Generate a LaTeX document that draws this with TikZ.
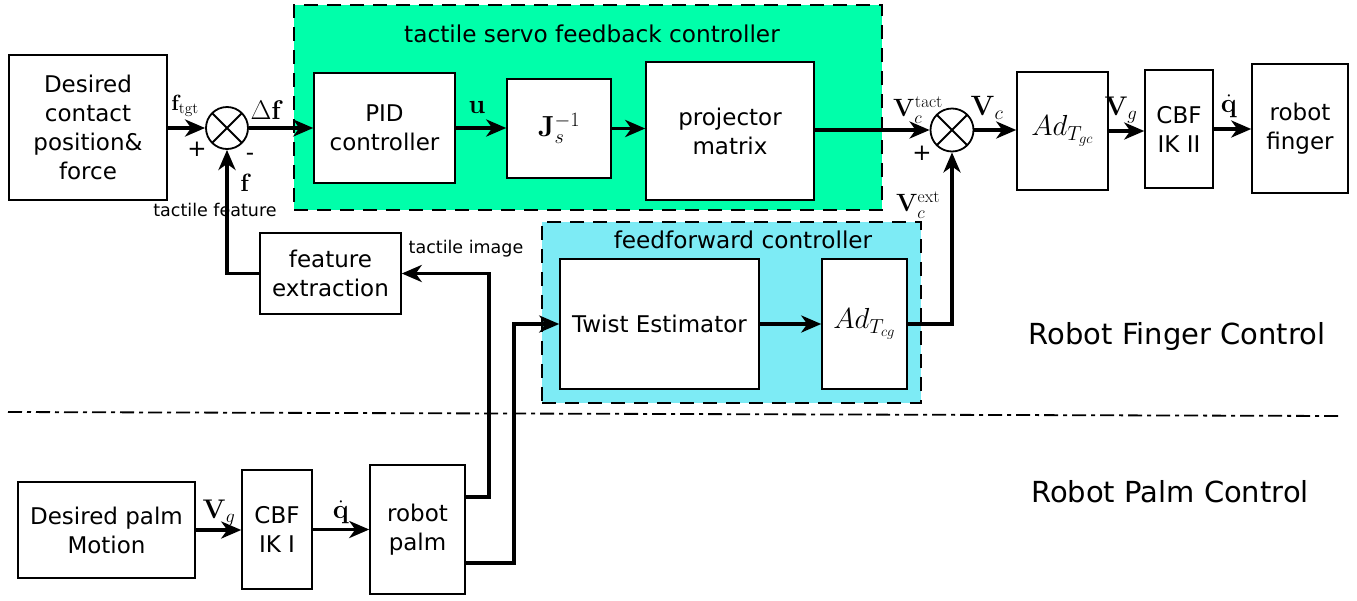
\RequirePackage{fix-cm}
\documentclass[tikz,border=0pt]{standalone}
\usepackage[no-math]{fontspec}
\setmainfont{DejaVu Sans}
\usetikzlibrary{arrows.meta,calc}
\definecolor{servogreen}{RGB}{0,255,170}
\definecolor{ffcyan}{RGB}{125,235,245}
\begin{document}
\begin{tikzpicture}[x=1pt,y=-1pt,
  blk/.style={draw,line width=1.5pt,fill=white,align=center,inner sep=0pt,
    font=\fontsize{23}{29}\selectfont},
  mathblk/.style={blk,font=\fontsize{29}{32}\selectfont},
  grp/.style={draw,line width=1.6pt,dash pattern=on 14pt off 9pt,inner sep=0pt},
  sumj/.style={draw,line width=1.8pt,circle,minimum size=42pt,inner sep=0pt,fill=white,
    path picture={\draw[line width=1.8pt]
      (path picture bounding box.north west) -- (path picture bounding box.south east)
      (path picture bounding box.north east) -- (path picture bounding box.south west);}},
  conn/.style={line width=3.6pt,-{Stealth[length=20pt,width=17pt,inset=6pt]}},
  lbl/.style={inner sep=0pt,font=\fontsize{25}{28}\selectfont},
  sign/.style={inner sep=0pt,font=\fontsize{23}{26}\selectfont},
  small/.style={inner sep=0pt,font=\fontsize{17.5}{20}\selectfont},
  title/.style={inner sep=0pt,font=\fontsize{23.2}{27}\selectfont},
  big/.style={inner sep=0pt,font=\fontsize{29}{32}\selectfont}]
\useasboundingbox (0,0) rectangle (1357,600);

% controller groups
\node[grp,fill=servogreen,minimum width=588pt,minimum height=205pt] (servo) at (588,107.5) {};
\node[title] (servot) at (592,34) {tactile servo feedback controller};
\node[grp,fill=ffcyan,minimum width=379pt,minimum height=181pt] (ff) at (731.5,312.5) {};
\node[title] (fft) at (743,240) {feedforward controller};

% finger loop blocks
\node[blk,minimum width=158pt,minimum height=145pt] (desc) at (88,127.5) {Desired\\contact\\position\&\\force};
\node[sumj] (sum1) at (227,128) {};
\node[blk,minimum width=141pt,minimum height=110pt] (pid) at (384.5,128) {PID\\controller};
\node[mathblk,minimum width=104pt,minimum height=99pt] (jac) at (559,128.5) {$\mathbf{J}_s^{-1}$};
\node[blk,minimum width=168pt,minimum height=138pt] (proj) at (730,131) {projector\\matrix};
\node[sumj,minimum size=43pt] (sum2) at (952,130) {};
\node[mathblk,minimum width=91pt,minimum height=118pt] (adgc) at (1062.5,131) {$Ad_{T_{gc}}$};
\node[blk,minimum width=68pt,minimum height=118pt] (ik2) at (1179,129) {CBF\\IK II};
\node[blk,minimum width=96pt,minimum height=129pt] (finger) at (1300,128.5) {robot\\finger};
\node[blk,minimum width=199pt,minimum height=130pt] (twist) at (659.5,324) {Twist Estimator};
\node[mathblk,minimum width=85pt,minimum height=130pt] (adcg) at (864.5,324) {$Ad_{T_{cg}}$};
\node[blk,minimum width=141pt,minimum height=81pt] (feat) at (330.5,273.5) {feature\\extraction};

% palm loop blocks
\node[blk,minimum width=177pt,minimum height=96pt] (palmdes) at (106.5,530) {Desired palm\\Motion};
\node[blk,minimum width=70pt,minimum height=119pt] (ik1) at (277,529.5) {CBF\\IK I};
\node[blk,minimum width=95pt,minimum height=129pt] (palm) at (417.5,529.5) {robot\\palm};

% signal flow
\draw[conn] (desc.east |- sum1.west) -- (sum1.west);
\draw[conn] (sum1.east) -- (pid.west);
\draw[conn] (pid.east) -- (jac.west |- pid.east);
\draw[conn] (jac.east) -- (proj.west |- jac.east);
\draw[conn] (proj.east |- sum2.west) -- (sum2.west);
\draw[conn] (sum2.east) -- (adgc.west |- sum2.east);
\draw[conn] (adgc.east) -- (ik2.west |- adgc.east);
\draw[conn,line width=4.6pt] (ik2.east) -- (finger.west |- ik2.east);
\draw[conn] (twist.east) -- (adcg.west);
\draw[conn] (adcg.east) -| (sum2.south);
\draw[conn] (feat.west) -| (sum1.south);
\draw[conn] ([yshift=32.5pt]palm.east) -- ++(23,0) |- (feat.east);
\draw[conn] ([yshift=-33.5pt]palm.east) -- ++(48,0) |- (twist.west);
\draw[conn] (palmdes.east) -- (ik1.west |- palmdes.east);
\draw[conn] (ik1.east) -- (palm.west |- ik1.east);

% signal labels
\node[lbl,font=\fontsize{22}{26}\selectfont] (lftgt) at (185,106) {$\mathbf{f}_{\mathrm{tgt}}$};
\node[sign] (lp1) at (197,149) {+};
\node[sign] (lm1) at (250,157) {-};
\node[lbl] (lf) at (246,183) {$\mathbf{f}$};
\node[lbl,font=\fontsize{27}{30}\selectfont] (ldf) at (267,110) {$\Delta\mathbf{f}$};
\node[lbl,font=\fontsize{27}{30}\selectfont] (lu) at (477,107) {$\mathbf{u}$};
\node[lbl] (lvt) at (918,110) {$\mathbf{V}_c^{\mathrm{tact}}$};
\node[sign] (lp2) at (922,153) {+};
\node[lbl,font=\fontsize{28}{30}\selectfont] (lvc) at (987,108) {$\mathbf{V}_c$};
\node[lbl] (lve) at (918,205) {$\mathbf{V}_c^{\mathrm{ext}}$};
\node[lbl,font=\fontsize{27}{30}\selectfont] (lvg) at (1121,110) {$\mathbf{V}_g$};
\node[lbl,font=\fontsize{27}{30}\selectfont] (lqd) at (1229,106) {$\dot{\mathbf{q}}$};
\node[lbl,font=\fontsize{27}{30}\selectfont] (lvg2) at (219,513) {$\mathbf{V}_g$};
\node[lbl,font=\fontsize{27}{30}\selectfont] (lqd2) at (341,512) {$\dot{\mathbf{q}}$};
\node[small] (ltf) at (215,210) {tactile feature};
\node[small] (lti) at (466,249) {tactile image};

% separator between the two control levels
\coordinate (sepL) at (8,412);
\coordinate (sepR) at (1340,416);
\draw[line width=1.8pt,dash pattern=on 14pt off 5pt on 4pt off 5pt] (sepL) -- (sepR);
\node[big] (rfc) at (1177,336) {Robot Finger Control};
\node[big] (rpc) at (1170,492) {Robot Palm Control};
\end{tikzpicture}
\end{document}
